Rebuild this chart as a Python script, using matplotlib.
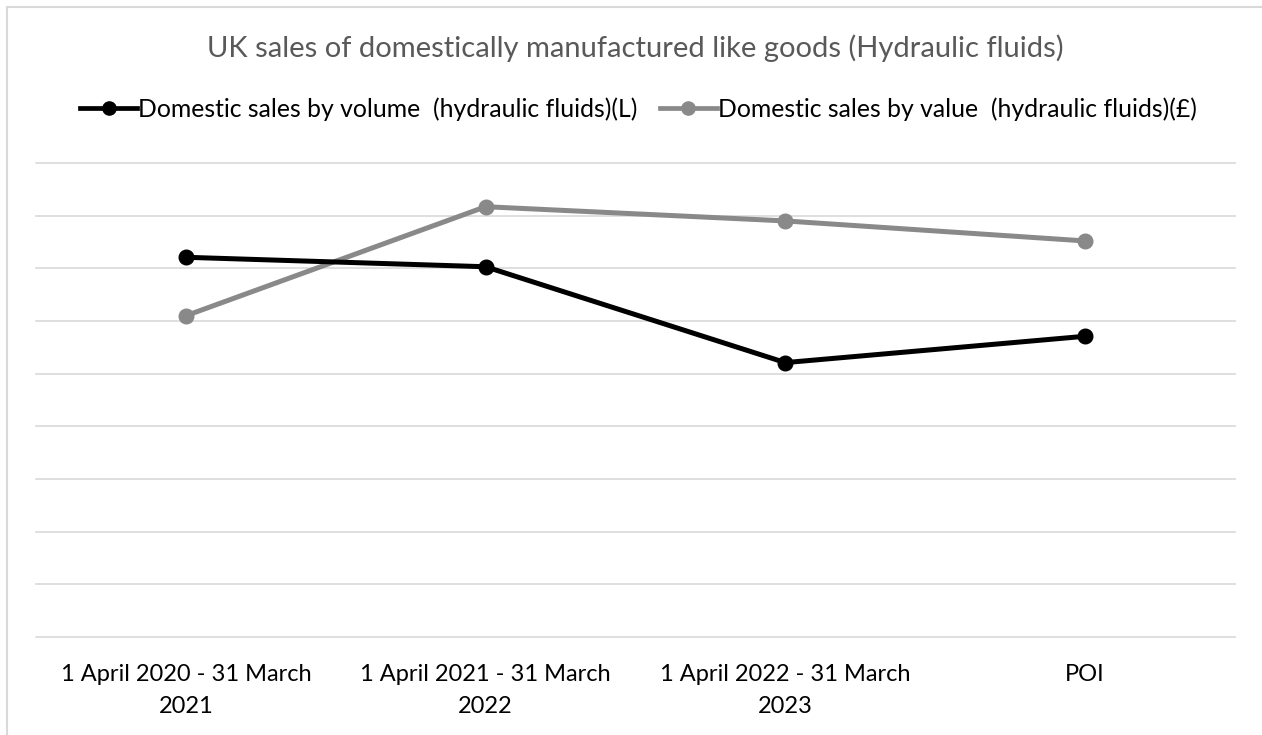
import matplotlib
matplotlib.use("Agg")
import matplotlib.pyplot as plt
from matplotlib.patches import Rectangle
from matplotlib.lines import Line2D

categories = [
    "1 April 2020 - 31 March\n2021",
    "1 April 2021 - 31 March\n2022",
    "1 April 2022 - 31 March\n2023",
    "POI",
]
volume = [7.21, 7.03, 5.21, 5.71]
value = [6.10, 8.17, 7.90, 7.52]
series_names = [
    "Domestic sales by volume  (hydraulic fluids)(L)",
    "Domestic sales by value  (hydraulic fluids)(£)",
]
title = "UK sales of domestically manufactured like goods (Hydraulic fluids)"

plt.rcParams["font.family"] = ["Lato", "DejaVu Sans"]

W, H = 1262, 735
fig = plt.figure(figsize=(W / 100, H / 100), dpi=100)
fig.patch.set_facecolor("white")

# outer chart border (top and left edges visible)
fig.add_artist(Rectangle((6.5 / W, -0.1), 1.2, (H - 6.5) / H + 0.1,
                         transform=fig.transFigure, fill=False,
                         edgecolor="#d9d9d9", linewidth=1.5))

ax = fig.add_axes([36 / W, (H - 637) / H, 1199 / W, 474 / H])
ax.set_xlim(-0.5, 3.5)
ax.set_ylim(0, 9)

x = list(range(len(categories)))
ax.plot(x, volume, color="black", linewidth=3.6, marker="o",
        markersize=10.5, solid_capstyle="round", zorder=4)
ax.plot(x, value, color="#898989", linewidth=3.6, marker="o",
        markersize=10.5, solid_capstyle="round", zorder=3)

ax.set_yticks(range(0, 10))
ax.yaxis.grid(True, color="#d9d9d9", linewidth=1.2)
for gl in ax.get_ygridlines():
    gl.set_clip_on(False)
ax.set_axisbelow(True)
ax.tick_params(axis="y", left=False, labelleft=False)
ax.tick_params(axis="x", bottom=False, pad=16)
ax.set_xticks(x)
ax.set_xticklabels(categories, fontsize=17, color="black", linespacing=1.65)
for s in ax.spines.values():
    s.set_visible(False)

fig.text((36 + 1235) / 2 / W, 1 - 48 / H, title, ha="center", va="center",
         fontsize=21, color="#595959")

handles = [
    Line2D([], [], color="black", linewidth=3.4, marker="o", markersize=9.5),
    Line2D([], [], color="#898989", linewidth=3.4, marker="o", markersize=9.5),
]
fig.legend(handles, series_names, loc="center", ncol=2,
           bbox_to_anchor=((84 + 1193) / 2 / W, 1 - 109 / H),
           frameon=False, fontsize=17.8, handlelength=2.3,
           handletextpad=0.05, columnspacing=0.9, borderaxespad=0,
           borderpad=0)

fig.savefig("out.png", dpi=100, facecolor="white")
